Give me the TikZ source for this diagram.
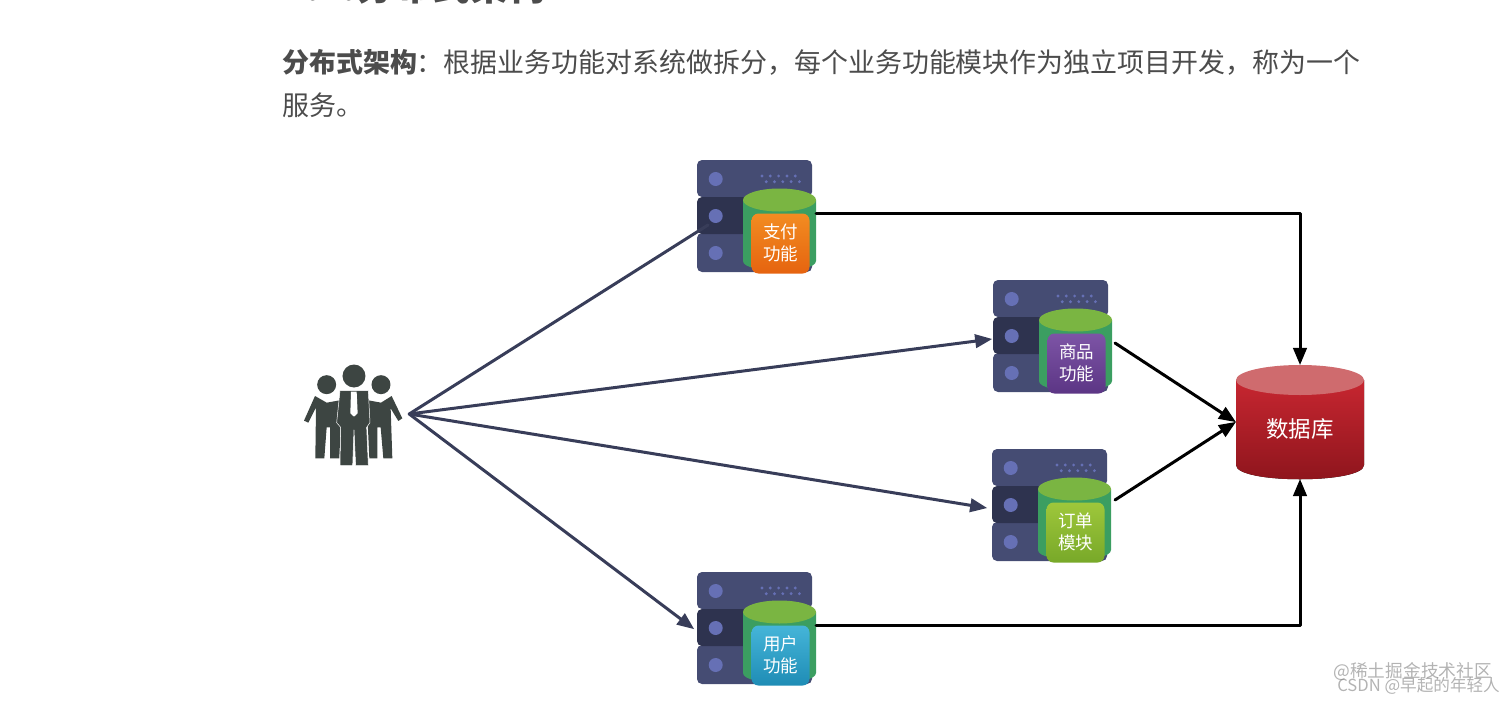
\documentclass[tikz,border=0pt]{standalone}
\usepackage{fontspec}
\setmainfont{Noto Sans CJK SC}
\usetikzlibrary{arrows}
\definecolor{lllfff}{rgb}{0.27,0.30,0.45}
\definecolor{dddfff}{rgb}{0.18,0.20,0.31}
\definecolor{qqqfff}{rgb}{0.40,0.44,0.71}
\definecolor{ggglll}{rgb}{0.48,0.71,0.26}
\definecolor{gggddd}{rgb}{0.23,0.62,0.38}
\definecolor{nnnaaa}{rgb}{0.22,0.24,0.35}
\definecolor{ppplll}{rgb}{0.24,0.27,0.26}
\definecolor{txtggg}{rgb}{0.30,0.30,0.30}
\definecolor{ooottt}{rgb}{0.95,0.55,0.13}
\definecolor{oooddd}{rgb}{0.90,0.39,0.06}
\definecolor{vvvttt}{rgb}{0.49,0.33,0.65}
\definecolor{vvvddd}{rgb}{0.36,0.21,0.52}
\definecolor{yyyttt}{rgb}{0.62,0.78,0.23}
\definecolor{yyyddd}{rgb}{0.47,0.66,0.16}
\definecolor{cccttt}{rgb}{0.27,0.71,0.85}
\definecolor{cccddd}{rgb}{0.12,0.55,0.71}
\definecolor{rrrttt}{rgb}{0.78,0.15,0.19}
\definecolor{rrrddd}{rgb}{0.55,0.08,0.11}
\definecolor{rrrlll}{rgb}{0.81,0.42,0.43}
\tikzset{
	lab/.style={text=white,font=\fontsize{17.5}{21.5}\selectfont,align=center,inner sep=0pt},
	slab/.style={rounded corners=5pt,fill=#1},
	navyline/.style={color=nnnaaa,line width=3pt},
	blackline/.style={->,color=black,line width=3pt},
	para/.style={anchor=base west,inner sep=0pt,text=txtggg,font=\fontsize{26.95}{30}\selectfont},
	mark text/.style={anchor=base east,inner sep=0pt,text=gray,opacity=0.6},
	pics/server/.style n args={3}{code={
		\fill [slab=lllfff] (0,0) rectangle (115,37);
		\fill [slab=lllfff] (0,73) rectangle (115,112);
		\fill [slab=dddfff] (0,37) rectangle (115,74);
		\foreach \yy in {19,56,93}
			\fill [qqqfff] (18.7,\yy) circle (7pt);
		\foreach \xx in {65,73.3,81.6,89.9,98.2}
			\fill [qqqfff] (\xx,16) circle (1.6pt) (\xx+4.2,21.7) circle (1.6pt);
		\fill [gggddd] (46,40) -- (46,101) .. controls (46,114) and (119,114) .. (119,101) -- (119,40) -- cycle;
		\fill [ggglll] (82.5,40) ellipse (36.5 and 11.5);
		\node (-box) [minimum width=58pt,minimum height=60pt,inner sep=0pt,rounded corners=7pt,top color=#1,bottom color=#2] at (83.5,83.5) {};
		\node (-lab) [lab] at (83.5,83) {#3};
	}},
}
\begin{document}
\begin{tikzpicture}[line cap=round,line join=round,>=triangle 45,x=1pt,y=-1pt]
	\useasboundingbox (0,0) rectangle (1512,701);
	\clip (0,0) rectangle (1512,701);
	\node (title) [anchor=base west,inner sep=0pt,text=txtggg,font=\fontsize{38}{40}\selectfont\bfseries] at (283,1) {1.2.分布式架构};
	\node (line1) [para] at (282,72) {{\bfseries 分布式架构}：根据业务功能对系统做拆分，每个业务功能模块作为独立项目开发，称为一个};
	\node (line2) [para] at (282,115) {服务。};
	\pic (pay) at (697,160) {server={ooottt}{oooddd}{支付\\功能}};
	\pic (goods) at (993,280) {server={vvvttt}{vvvddd}{商品\\功能}};
	\pic (order) at (992,449) {server={yyyttt}{yyyddd}{订单\\模块}};
	\pic (user) at (697,572) {server={cccttt}{cccddd}{用户\\功能}};
	% people
	\node (team) [minimum width=112pt,minimum height=102pt,inner sep=0pt] at (353,414) {};
	\begin{scope}[shift={(290,350)},x=0.3333pt,y=-0.3333pt]
		\fill [ppplll] (110,104) circle (9.5pt) (273,104) circle (9.5pt) (192,78) circle (11.5pt);
		\fill [ppplll] (75,138) -- (42,212) -- (55,218) -- (78,172) -- (76,325) -- (103,325) -- (110,232) -- (120,232) -- (120,325) -- (148,325) -- (155,150) -- (110,158) -- cycle;
		\fill [ppplll] (305,138) -- (337,205) -- (325,213) -- (302,175) -- (307,325) -- (280,325) -- (272,232) -- (262,232) -- (262,325) -- (238,325) -- (230,150) -- (273,158) -- cycle;
		\draw [fill=ppplll,draw=white,line width=0.5pt] (150,122) -- (235,122) -- (240,218) -- (230,232) -- (235,347) -- (197,347) -- (192,240) -- (188,347) -- (150,347) -- (152,232) -- (140,218) -- cycle;
		\fill [white] (183,125) -- (200,125) -- (203,190) -- (192,200) -- (181,190) -- cycle;
	\end{scope}
	% database
	\fill [top color=rrrttt,bottom color=rrrddd] (1236,380) -- (1236,465) .. controls (1236,484) and (1364,484) .. (1364,465) -- (1364,380) -- cycle;
	\fill [rrrlll] (1300,380) ellipse (64 and 15);
	\node (db) [minimum width=128pt,minimum height=114pt,inner sep=0pt] at (1300,422) {};
	\node (dblab) [inner sep=0pt,text=white,font=\fontsize{22.5}{24}\selectfont] at (1300,429) {数据库};
	% connectors
	\coordinate (payin) at (708,225);
	\coordinate (goodsin) at (992,339);
	\coordinate (orderin) at (987,508);
	\coordinate (userin) at (694,629);
	\coordinate (payout) at (816,213);
	\coordinate (userout) at (816,625);
	\coordinate (goodsout) at (1115,343);
	\coordinate (orderout) at (1115,500);
	\draw [navyline] (team.east) -- (payin);
	\draw [navyline,->] (team.east) -- (goodsin);
	\draw [navyline,->] (team.east) -- (orderin);
	\draw [navyline,->] (team.east) -- (userin);
	\draw [blackline] (payout) -| (db.north);
	\draw [blackline] (userout) -| (db.south);
	\draw [blackline] (goodsout) -- (db.west);
	\draw [blackline] (orderout) -- (db.west);
	% marks
	\node (mark1) [mark text,font=\fontsize{17.7}{20}\selectfont] at (1492,677) {@稀土掘金技术社区};
	\node (mark2) [mark text,font=\fontsize{16.6}{20}\selectfont] at (1500,691) {CSDN @早起的年轻人};
\end{tikzpicture}
\end{document}
